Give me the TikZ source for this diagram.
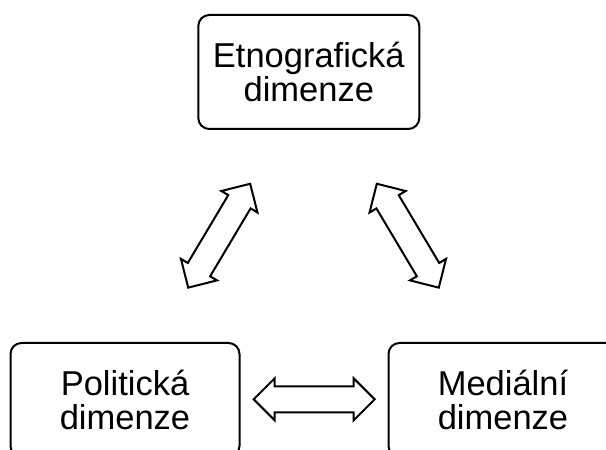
\documentclass[tikz,border=0pt]{standalone}
\usepackage{fontspec}
\setmainfont{Liberation Sans}
\usetikzlibrary{shapes.arrows}
\begin{document}
\begin{tikzpicture}[x=1pt,y=1pt,
    dim/.style={draw, line width=2pt, rounded corners=11pt, minimum height=114pt,
      inner sep=0pt, align=center, font=\fontsize{34.5}{33.5}\selectfont},
    both/.style={double arrow, draw, line width=2pt, fill=white, inner sep=0pt,
      inner ysep=12pt, double arrow head extend=8pt, minimum height=121pt}]
  \useasboundingbox (0,0) rectangle (606,450);
  \draw
    (308.8,378) node[dim, minimum width=221pt] (eth){Etnografická\\dimenze}
    (125,50) node[dim, minimum width=229pt] (pol){Politická\\dimenze}
    (503,50) node[dim, minimum width=229pt] (med){Mediální\\dimenze};
  \draw
    (219.2,214.3) node[both, rotate=59.2] (pol-eth){}
    (407.8,214.3) node[both, rotate=-59.2] (med-eth){}
    (314.2,50.7) node[both] (pol-med){};
\end{tikzpicture}
\end{document}
